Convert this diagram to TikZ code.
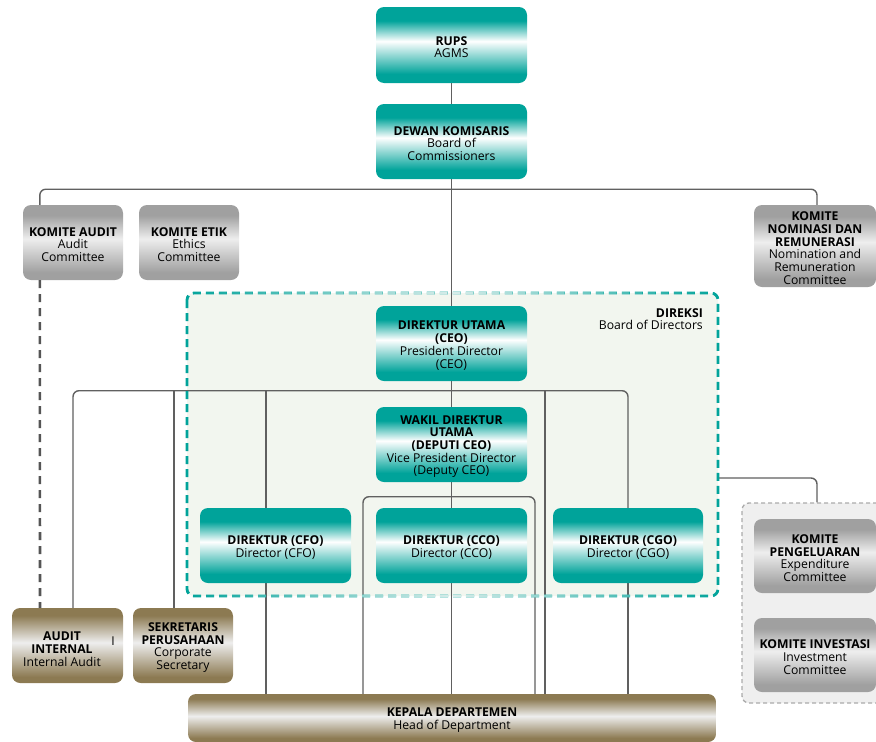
\documentclass[tikz,border=0pt]{standalone}
\usepackage{fontspec}
\setmainfont{Open Sans}
\usetikzlibrary{calc,fadings}
\definecolor{tealc}{HTML}{00A39A}
\definecolor{grayc}{HTML}{A0A0A0}
\definecolor{grayl}{HTML}{EEEEEE}
\definecolor{brownc}{HTML}{8C7A52}
\definecolor{lnc}{HTML}{606060}
\definecolor{dashc}{HTML}{555555}
\definecolor{dirfill}{HTML}{F2F6EF}
\definecolor{dirlight}{HTML}{D8EDEA}
\definecolor{grpfill}{HTML}{EFEFEF}
\definecolor{grpline}{HTML}{AAAAAA}
\newcommand\sT{\rule{0pt}{13pt}}
% TikZ maps 25bp..75bp of a shading onto the path
\pgfdeclareverticalshading{tealsh}{100bp}{color(0bp)=(tealc); color(31bp)=(tealc); color(52.5bp)=(white); color(66bp)=(tealc); color(100bp)=(tealc)}
\pgfdeclareverticalshading{graysh}{100bp}{color(0bp)=(grayc); color(30bp)=(grayc); color(52.5bp)=(grayl); color(68bp)=(grayc); color(100bp)=(grayc)}
\pgfdeclareverticalshading{brownsh}{100bp}{color(0bp)=(brownc); color(29bp)=(brownc); color(52bp)=(grayl); color(70bp)=(brownc); color(100bp)=(brownc)}
\tikzfading[name=midfade, left color=transparent!100, right color=transparent!100, middle color=transparent!0]
\tikzset{
  box/.style={rounded corners=8pt, inner sep=0pt, align=center, text=black,
    font=\fontsize{12.2}{12.7}\selectfont},
  tbox/.style={box, shade, shading=tealsh},
  gbox/.style={box, shade, shading=graysh},
  bbox/.style={box, shade, shading=brownsh},
  lbl/.style={inner sep=0pt, align=center, text=black, font=\fontsize{12.2}{12.7}\selectfont},
  conn/.style={draw=lnc, line width=1.4pt, rounded corners=6pt},
  auddash/.style={draw=dashc, line width=2.6pt, dash pattern=on 8pt off 6pt},
  dirborder/.style={line width=2.8pt, dash pattern=on 8pt off 5pt, rounded corners=7pt},
}
\begin{document}
\begin{tikzpicture}[x=1pt,y=-1pt]
\useasboundingbox (0,0) rectangle (876,742);
% Direksi region fill
\fill[dirfill, rounded corners=7pt] (187,293) rectangle (718,596);
\path (452.5,444.5) node[minimum width=531pt, minimum height=303pt, inner sep=0pt] (dir) {};
% group region
\node[draw=grpline, fill=grpfill, line width=1.3pt, dash pattern=on 4pt off 3pt, rounded corners=7pt,
  minimum width=142pt, minimum height=200pt, inner sep=0pt] (grp) at (813,603) {};

% nodes
\node[tbox, minimum width=151pt, minimum height=76pt] (rups) at (451.5,45) {\sT\textbf{RUPS}\\AGMS};
\node[tbox, minimum width=151pt, minimum height=75pt] (dk) at (451.5,141.5) {\sT\textbf{DEWAN KOMISARIS}\\Board of\\Commissioners};
\node[gbox, minimum width=100pt, minimum height=75pt] (ka) at (73,242.5) {\sT\textbf{KOMITE AUDIT}\\Audit\\Committee};
\node[gbox, minimum width=100pt, minimum height=75pt] (ke) at (189,242.5) {\sT\textbf{KOMITE ETIK}\\Ethics\\Committee};
\node[gbox, minimum width=122pt, minimum height=82pt] (kn) at (815,246) {\sT\textbf{KOMITE}\\\textbf{NOMINASI DAN}\\\textbf{REMUNERASI}\\Nomination and\\Remuneration\\Committee};

% connectors
\coordinate (bus1) at ($(dk.south)+(0,10)$);
\coordinate (bus2) at ($(dk.south)+(0,211.5)$);
\coordinate (bus3) at ($(dk.south)+(0,317.5)$);
\draw[conn] (rups) -- (dk);
\draw[conn] (dk.south) -- (451.5,306);
\draw[conn] ($(ka.north west)+(17,0)$) |- (bus1) -| ($(kn.north)+(2,0)$);
\draw[auddash] ($(ka.south west)+(17,0)$) -- (40,608);
\draw[conn] (73,608) |- (bus2) -| (628,508);
\draw[conn] (bus2 -| 174,0) -- (174,608);
\draw[conn] (bus2 -| 266,0) -- (266,694);
\draw[conn] (bus2 -| 545,0) -- (545,694);
\draw[conn] (451.5,381) -- (451.5,508);
\draw[conn] (363,694) |- (bus3) -| (535,694);
\draw[conn] (451.5,583) -- (451.5,694);
\draw[conn] (628,583) -- (628,694);
\draw[conn] (718,478) -| (grp.north -| 817,0);

% Direksi border
\draw[tealc, dirborder] (187,293) rectangle (718,596);
\draw[dirlight, dirborder, path fading=midfade, fit fading=true] (187,293) rectangle (718,596);
\node[lbl, align=right, anchor=north east] (dirl) at (703,308) {\textbf{DIREKSI}\\Board of Directors};

\node[tbox, minimum width=151pt, minimum height=75pt] (ceo) at (451.5,343.5) {\sT\textbf{DIREKTUR UTAMA}\\\textbf{(CEO)}\\President Director\\(CEO)};
\node[tbox, minimum width=151pt, minimum height=75pt] (wk) at (451.5,444.5) {\sT\textbf{WAKIL DIREKTUR}\\\textbf{UTAMA}\\\textbf{(DEPUTI CEO)}\\Vice President Director\\(Deputy CEO)};
\node[tbox, minimum width=151pt, minimum height=75pt] (cfo) at (275.5,545.5) {\sT\textbf{DIREKTUR (CFO)}\\Director (CFO)};
\node[tbox, minimum width=151pt, minimum height=75pt] (cco) at (451.5,545.5) {\sT\textbf{DIREKTUR (CCO)}\\Director (CCO)};
\node[tbox, minimum width=150pt, minimum height=75pt] (cgo) at (628,545.5) {\sT\textbf{DIREKTUR (CGO)}\\Director (CGO)};

\node[bbox, minimum width=111pt, minimum height=75pt] (ai) at (67.5,645.5) {};
\node[lbl] (ait) at (62,647) {\sT\textbf{AUDIT}\\\textbf{INTERNAL}\\Internal Audit};
\node[lbl] (aii) at (113,641) {I};
\node[bbox, minimum width=100pt, minimum height=75pt] (sp) at (183,645.5) {\sT\textbf{SEKRETARIS}\\\textbf{PERUSAHAAN}\\Corporate\\Secretary};
\node[bbox, minimum width=528pt, minimum height=48pt] (kp) at (452,718) {\sT\textbf{KEPALA DEPARTEMEN}\\Head of Department};

\node[gbox, minimum width=122pt, minimum height=74pt] (kpg) at (815,556) {\sT\textbf{KOMITE}\\\textbf{PENGELUARAN}\\Expenditure\\Committee};
\node[gbox, minimum width=122pt, minimum height=74pt] (kiv) at (815,655) {\sT\textbf{KOMITE INVESTASI}\\Investment\\Committee};
\end{tikzpicture}
\end{document}
